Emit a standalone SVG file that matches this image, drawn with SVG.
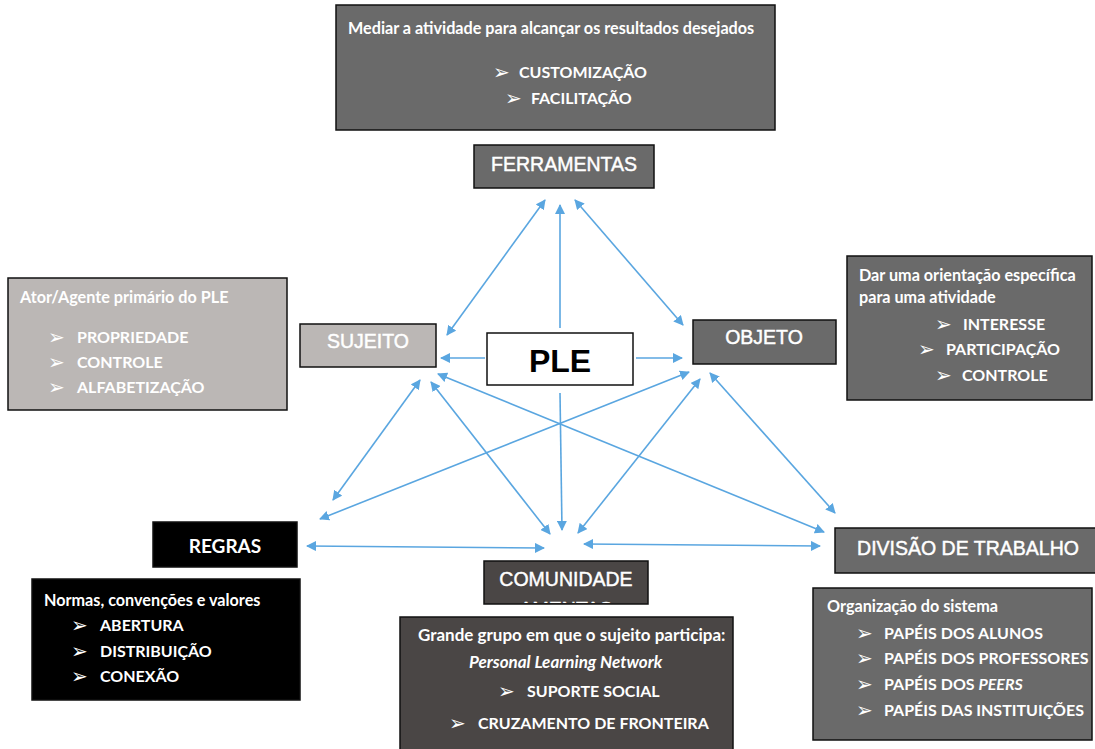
<svg xmlns="http://www.w3.org/2000/svg" width="1095" height="749" viewBox="0 0 1095 749">
  <style>
    .box { stroke: #111; stroke-width: 1.5; }
    .dark { fill: #6a6a6a; }
    .light { fill: #bbb7b5; }
    .brown { fill: #4a4645; }
    .black { fill: #000; }
    .white { fill: #fff; }
    .lbl { font-family: "Liberation Sans", Arial, sans-serif; font-size: 19.5px; fill: #fff; stroke: #fff; stroke-width: 0.45; text-anchor: middle; }
    .cal { font-family: Lato, "Open Sans", sans-serif; font-weight: bold; fill: #fff; }
    .hd { font-size: 16.2px; }
    .hd2 { font-size: 17px; }
    .it { font-size: 16px; }
    .bul { font-family: "DejaVu Sans", sans-serif; font-size: 20px; fill: #fff; }
    .con line { stroke: #5aa6e0; stroke-width: 1.6; fill: none; }
  </style>
  <defs>
    <marker id="ah" viewBox="0 0 10 10" refX="9" refY="5" markerWidth="10" markerHeight="10" markerUnits="userSpaceOnUse" orient="auto-start-reverse">
      <path d="M0,0 L10,5 L0,10 Z" fill="#5aa6e0"/>
    </marker>
    <clipPath id="comClip"><rect x="484" y="561" width="164" height="42"/></clipPath>
  </defs>

  <!-- FERRAMENTAS description -->
  <g id="ferramentas-info">
    <rect class="box dark" x="336" y="5" width="439" height="125"/>
    <text class="cal hd" x="348" y="34">Mediar a atividade para alcançar os resultados desejados</text>
    <text class="bul" x="493" y="79">➢</text>
    <text class="cal it" x="519" y="78">CUSTOMIZAÇÃO</text>
    <text class="bul" x="505" y="105">➢</text>
    <text class="cal it" x="531" y="104">FACILITAÇÃO</text>
  </g>

  <g id="ferramentas">
    <rect class="box dark" x="474" y="145" width="180" height="43"/>
    <text class="lbl" x="564" y="171">FERRAMENTAS</text>
  </g>

  <!-- SUJEITO description -->
  <g id="sujeito-info">
    <rect class="box light" x="8" y="278" width="279" height="132"/>
    <text class="cal hd" x="20" y="303">Ator/Agente primário do PLE</text>
    <text class="bul" x="48" y="344">➢</text>
    <text class="cal it" x="77" y="343">PROPRIEDADE</text>
    <text class="bul" x="48" y="369">➢</text>
    <text class="cal it" x="77" y="368">CONTROLE</text>
    <text class="bul" x="48" y="394">➢</text>
    <text class="cal it" x="77" y="393">ALFABETIZAÇÃO</text>
  </g>

  <g id="sujeito">
    <rect class="box light" x="300" y="324" width="136" height="43"/>
    <text class="lbl" x="368" y="348">SUJEITO</text>
  </g>

  <g id="ple">
    <rect class="box white" x="487" y="333" width="146" height="52"/>
    <text x="560" y="372" font-family="Liberation Sans, Arial, sans-serif" font-weight="bold" font-size="32" fill="#000" text-anchor="middle">PLE</text>
  </g>

  <g id="objeto">
    <rect class="box dark" x="693" y="320" width="143" height="44"/>
    <text class="lbl" x="764" y="344">OBJETO</text>
  </g>

  <!-- OBJETO description -->
  <g id="objeto-info">
    <rect class="box dark" x="847" y="256" width="245" height="144"/>
    <text class="cal hd" x="859" y="281">Dar uma orientação específica</text>
    <text class="cal hd" x="859" y="303">para uma atividade</text>
    <text class="bul" x="935" y="331">➢</text>
    <text class="cal it" x="963" y="330">INTERESSE</text>
    <text class="bul" x="918" y="356">➢</text>
    <text class="cal it" x="946" y="355">PARTICIPAÇÃO</text>
    <text class="bul" x="935" y="382">➢</text>
    <text class="cal it" x="962" y="381">CONTROLE</text>
  </g>

  <g id="regras">
    <rect class="box black" x="153" y="522" width="144" height="45"/>
    <text class="cal" x="225" y="553" font-size="19" text-anchor="middle">REGRAS</text>
  </g>

  <!-- REGRAS description -->
  <g id="regras-info">
    <rect class="box black" x="32" y="579" width="268" height="121"/>
    <text class="cal hd" x="44" y="606">Normas, convenções e valores</text>
    <text class="bul" x="71" y="632">➢</text>
    <text class="cal it" x="100" y="631">ABERTURA</text>
    <text class="bul" x="71" y="658">➢</text>
    <text class="cal it" x="100" y="657">DISTRIBUIÇÃO</text>
    <text class="bul" x="71" y="683">➢</text>
    <text class="cal it" x="100" y="682">CONEXÃO</text>
  </g>

  <g id="comunidade">
    <rect class="box brown" x="484" y="561" width="164" height="43"/>
    <text class="lbl" x="566" y="586">COMUNIDADE</text>
    <!-- second line overflows the box; only its top edge shows -->
    <text class="lbl" x="566" y="615.5" clip-path="url(#comClip)">AMENTAS</text>
  </g>

  <!-- COMUNIDADE description -->
  <g id="comunidade-info">
    <rect class="box brown" x="400" y="617" width="333" height="140"/>
    <text class="cal hd2" x="418" y="641">Grande grupo em que o sujeito participa:</text>
    <text class="cal hd2" x="469" y="668" font-style="italic">Personal Learning Network</text>
    <text class="bul" x="498" y="698">➢</text>
    <text class="cal it" x="527" y="697">SUPORTE SOCIAL</text>
    <text class="bul" x="449" y="730">➢</text>
    <text class="cal it" x="478" y="729">CRUZAMENTO DE FRONTEIRA</text>
  </g>

  <g id="divisao">
    <rect class="box dark" x="835" y="528" width="265" height="45"/>
    <text class="lbl" x="968" y="555">DIVISÃO DE TRABALHO</text>
  </g>

  <!-- DIVISÃO DE TRABALHO description -->
  <g id="divisao-info">
    <rect class="box dark" x="813" y="588" width="279" height="152"/>
    <text class="cal hd" x="827" y="612">Organização do sistema</text>
    <text class="bul" x="856" y="640">➢</text>
    <text class="cal it" x="884" y="639">PAPÉIS DOS ALUNOS</text>
    <text class="bul" x="856" y="665">➢</text>
    <text class="cal it" x="884" y="664">PAPÉIS DOS PROFESSORES</text>
    <text class="bul" x="856" y="691">➢</text>
    <text class="cal it" x="884" y="690">PAPÉIS DOS <tspan font-style="italic">PEERS</tspan></text>
    <text class="bul" x="856" y="717">➢</text>
    <text class="cal it" x="884" y="716">PAPÉIS DAS INSTITUIÇÕES</text>
  </g>

  <!-- connectors -->
  <g id="connectors" class="con">
    <line x1="545" y1="200" x2="447" y2="335" marker-start="url(#ah)" marker-end="url(#ah)"/>
    <line x1="560" y1="328" x2="560" y2="205" marker-end="url(#ah)"/>
    <line x1="575" y1="200" x2="683" y2="325" marker-start="url(#ah)" marker-end="url(#ah)"/>
    <line x1="485" y1="358" x2="441" y2="358" marker-end="url(#ah)"/>
    <line x1="636" y1="358" x2="682" y2="358" marker-end="url(#ah)"/>
    <line x1="560" y1="393" x2="562" y2="530" marker-end="url(#ah)"/>
    <line x1="420" y1="380" x2="333" y2="500" marker-start="url(#ah)" marker-end="url(#ah)"/>
    <line x1="431" y1="382" x2="550" y2="534" marker-start="url(#ah)" marker-end="url(#ah)"/>
    <line x1="438" y1="374" x2="824" y2="532" marker-start="url(#ah)" marker-end="url(#ah)"/>
    <line x1="689" y1="372" x2="320" y2="519" marker-start="url(#ah)" marker-end="url(#ah)"/>
    <line x1="700" y1="379" x2="578" y2="533" marker-start="url(#ah)" marker-end="url(#ah)"/>
    <line x1="710" y1="373" x2="835" y2="513" marker-start="url(#ah)" marker-end="url(#ah)"/>
    <line x1="307" y1="546" x2="544" y2="548" marker-start="url(#ah)" marker-end="url(#ah)"/>
    <line x1="584" y1="544" x2="820" y2="546" marker-start="url(#ah)" marker-end="url(#ah)"/>
  </g>
</svg>
